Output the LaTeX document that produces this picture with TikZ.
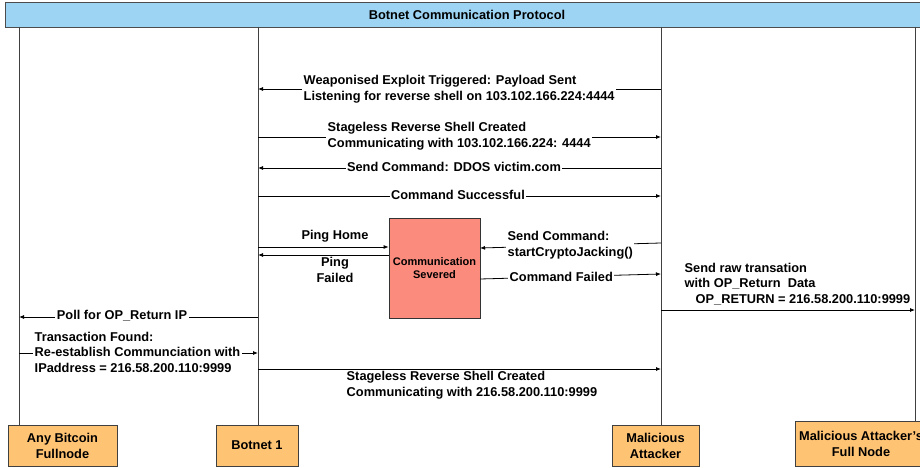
\documentclass[tikz,border=0pt]{standalone}
\usepackage{fontspec}
\setmainfont{Liberation Sans}
\usetikzlibrary{arrows.meta}
\definecolor{hdrblue}{HTML}{9ED4F3}
\definecolor{boxorange}{HTML}{FFC374}
\definecolor{sevred}{HTML}{FA8B7D}
\begin{document}
\begin{tikzpicture}[x=1pt,y=-1pt,
  msg/.style={draw=black, line width=0.8pt, -{Latex[length=5pt,width=4pt]}},
  txt/.style={font=\bfseries\fontsize{12.8}{15.5}\selectfont, inner sep=1.5pt, align=left},
  lbl/.style={txt, fill=white},
  actor/.style={draw=black!75, fill=boxorange, line width=0.8pt, font=\bfseries\fontsize{12.8}{16}\selectfont, align=center, inner sep=0pt, minimum height=41pt},
  life/.style={draw=black!75, line width=0.7pt}]
\useasboundingbox (0,0) rectangle (920,468);

% header
\node[draw=black!70, fill=hdrblue, line width=1pt, minimum width=926pt, minimum height=25pt, inner sep=0pt, anchor=north west, font=\bfseries\fontsize{12.8}{15}\selectfont] (hdr) at (5,2) {\hspace*{-3pt}Botnet Communication Protocol};

% actors
\node[actor, minimum width=109pt] (fn) at (62.5,445.5) {Any Bitcoin\\Fullnode};
\node[actor, minimum width=82pt] (bot) at (257,445.5) {Botnet 1};
\node[actor, minimum width=87pt] (mal) at (655.5,445.5) {Malicious\\Attacker};
\node[actor, minimum width=132pt, minimum height=45pt] (full) at (861,443.5) {Malicious Attacker's\\Full Node};

% lifelines
\coordinate (fnTop) at (19,27);
\coordinate (botTop) at (258,27);
\coordinate (malTop) at (661,27);
\coordinate (fullTop) at (915,27);
\draw[life] (fnTop) -- (fnTop |- fn.north);
\draw[life] (botTop) -- (botTop |- bot.north);
\draw[life] (malTop) -- (malTop |- mal.north);
\draw[life] (fullTop) -- (fullTop |- full.north);

% communication severed box
\node[draw=black!80, fill=sevred, line width=0.8pt, minimum width=91pt, minimum height=100pt, inner sep=0pt, align=center, font=\bfseries\fontsize{11}{13}\selectfont] (sev) at (434.5,268) {Communication\\Severed};

% message 1
\coordinate (m1a) at (661,89); \coordinate (m1b) at (258,89);
\draw[msg] (m1a) -- (m1b);
\node[lbl, anchor=west] (l1) at (302,89) {Weaponised Exploit Triggered: Payload Sent\\Listening for reverse shell on 103.102.166.224:4444};

% message 2
\coordinate (m2a) at (258,137); \coordinate (m2b) at (661,137);
\draw[msg] (m2a) -- (m2b);
\node[lbl, anchor=west] (l2) at (326,136) {Stageless Reverse Shell Created\\Communicating with 103.102.166.224: 4444};

% message 3
\coordinate (m3a) at (661,168); \coordinate (m3b) at (258,168);
\draw[msg] (m3a) -- (m3b);
\node[lbl] (l3) at (454,167) {Send Command: DDOS victim.com};

% message 4
\coordinate (m4a) at (258,196); \coordinate (m4b) at (661,196);
\draw[msg] (m4a) -- (m4b);
\node[lbl] (l4) at (458,195) {Command Successful};

% ping home
\coordinate (p1) at (258,247);
\draw[msg] (p1) -- (sev.west |- p1);
\node[txt] (lp1) at (335,236) {Ping Home};
% ping failed
\coordinate (p2) at (258,255);
\draw[msg] (sev.west |- p2) -- (p2);
\node[txt, align=center] (lp2) at (335,270) {Ping\\Failed};

% send command crypto
\coordinate (c1a) at (661,243); \coordinate (c1b) at (480,248);
\draw[msg] (c1a) -- (c1b);
\node[lbl, anchor=west] (lc1) at (506,245) {Send Command:\\startCryptoJacking()};

% command failed
\coordinate (c2a) at (480,279); \coordinate (c2b) at (661,274);
\draw[msg] (c2a) -- (c2b);
\node[lbl, anchor=west] (lc2) at (508,277) {Command Failed};

% op_return tx
\coordinate (o1a) at (661,310); \coordinate (o1b) at (915,310);
\draw[msg] (o1a) -- (o1b);
\node[txt, anchor=west] (lo1) at (683,284) {Send raw transation\\with OP\_Return\ \ Data\\\hspace*{11pt}OP\_RETURN = 216.58.200.110:9999};

% poll
\coordinate (q1a) at (258,317); \coordinate (q1b) at (19,317);
\draw[msg] (q1a) -- (q1b);
\node[lbl] (lq1) at (122,316) {Poll for OP\_Return IP};

% transaction found
\coordinate (t1a) at (19,353); \coordinate (t1b) at (258,353);
\draw[msg] (t1a) -- (t1b);
\node[lbl, anchor=west] (lt1) at (33,352) {Transaction Found:\\Re-establish Communciation with\\IPaddress = 216.58.200.110:9999};

% final
\coordinate (f1a) at (258,369); \coordinate (f1b) at (661,369);
\draw[msg] (f1a) -- (f1b);
\node[txt, anchor=west] (lf1) at (345,385) {Stageless Reverse Shell Created\\Communicating with 216.58.200.110:9999};
\end{tikzpicture}
\end{document}
